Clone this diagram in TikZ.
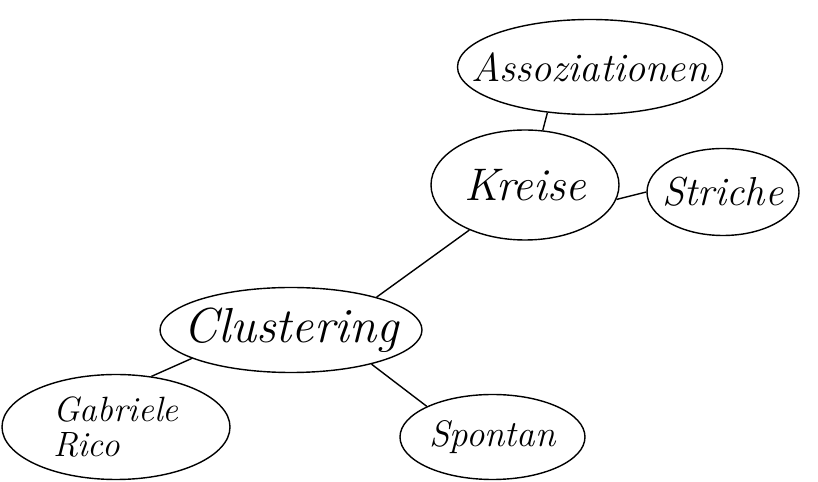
\documentclass[tikz,border=0pt]{standalone}
\usepackage{tikz}
\usetikzlibrary{shapes.geometric}

\begin{document}
\begin{tikzpicture}[
            bubble/.style={draw,ellipse,thick,inner sep=0pt},
            word/.style={font=\fontsize{#1}{#1}\selectfont\itshape,align=left},
            link/.style={thick}
        ]
            \useasboundingbox (0,0) rectangle (16.36,9.64);
            % bubbles
            \node[bubble,minimum width=5.3cm,minimum height=1.9cm,
                label={[word=23]center:Assoziationen}] (assoz) at (11.8,8.3) {};
            \node[bubble,minimum width=3.76cm,minimum height=2.2cm,
                label={[word=26]center:Kreise}] (kreise) at (10.5,5.94) {};
            \node[bubble,minimum width=3.04cm,minimum height=1.74cm,
                label={[word=23]center:Striche}] (striche) at (14.46,5.8) {};
            \node[bubble,minimum width=5.24cm,minimum height=1.7cm,
                label={[word=28]center:Clustering}] (cluster) at (5.82,3.04) {};
            \node[bubble,minimum width=4.56cm,minimum height=2.1cm,
                label={[word=20]center:Gabriele\\Rico}] (rico) at (2.32,1.1) {};
            \node[bubble,minimum width=3.7cm,minimum height=1.7cm,
                label={[word=21]center:Spontan}] (spontan) at (9.85,0.9) {};
            % links
            \draw[link] (assoz.227) -- (kreise.72);
            \draw[link] (kreise.-9) -- (striche.180);
            \draw[link] (kreise.219) -- (cluster.21);
            \draw[link] (cluster.196) -- (rico.55);
            \draw[link] (cluster.-23) -- (spontan.155);
        \end{tikzpicture}
\end{document}
